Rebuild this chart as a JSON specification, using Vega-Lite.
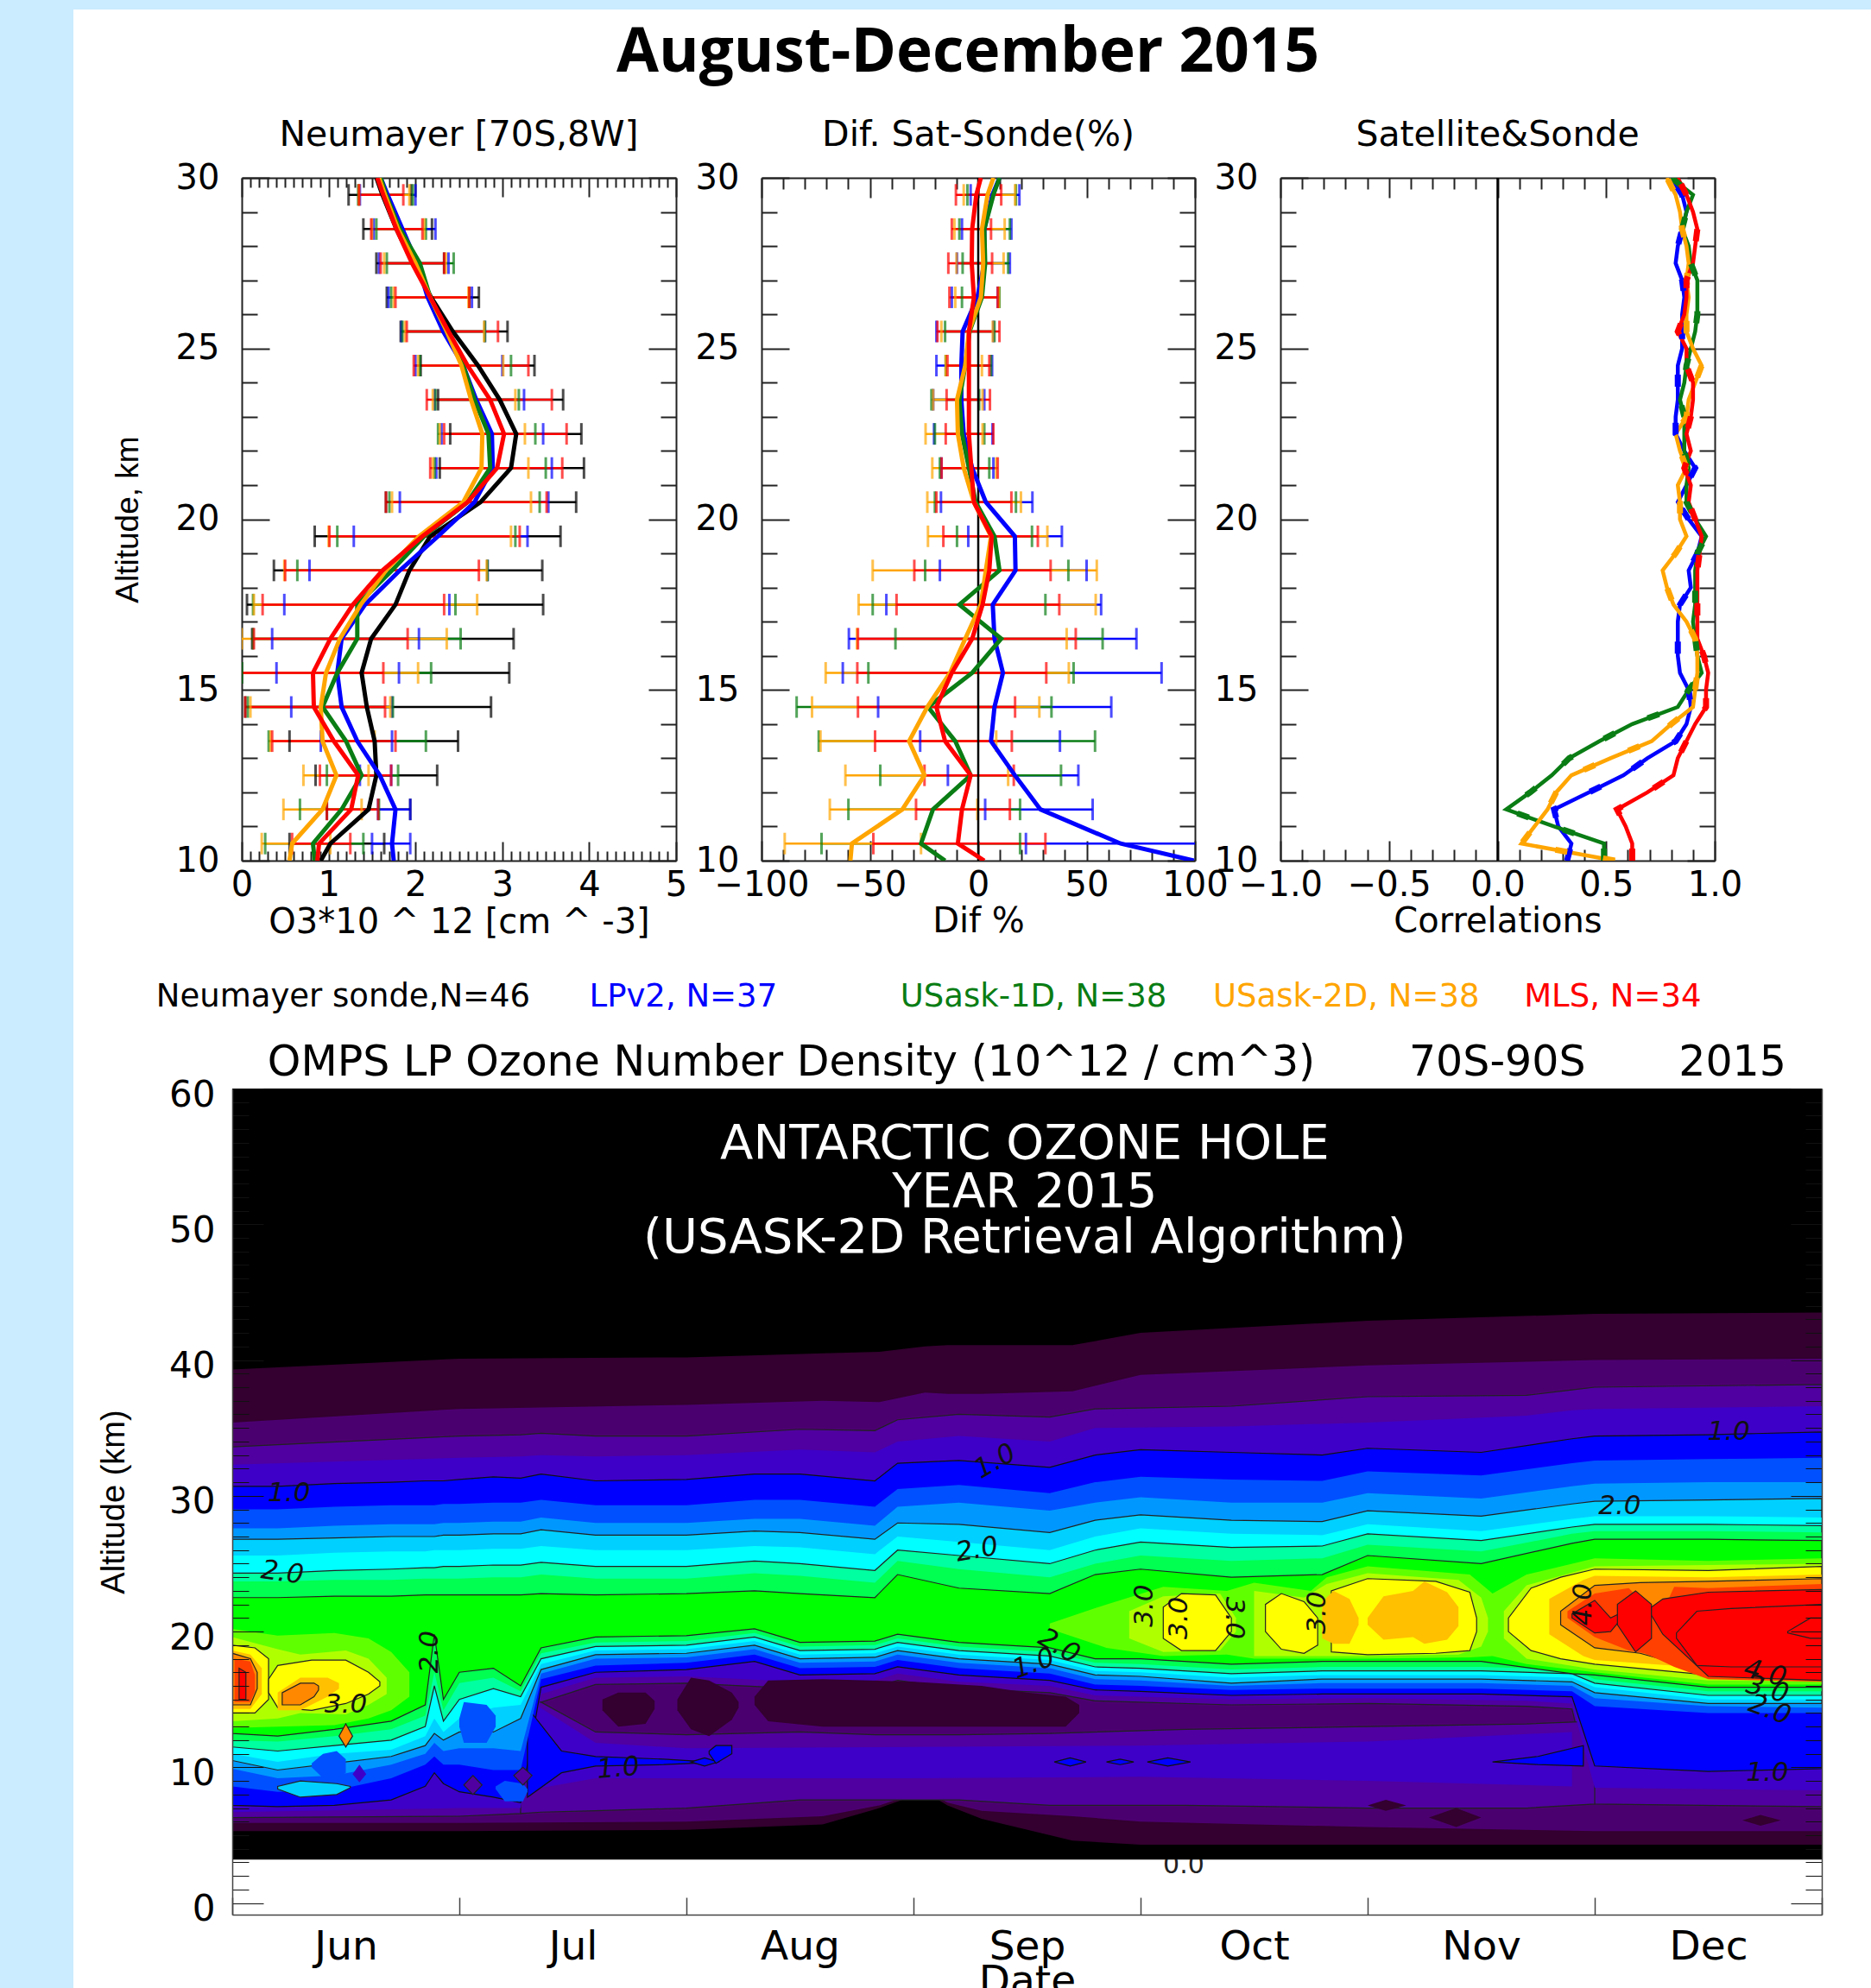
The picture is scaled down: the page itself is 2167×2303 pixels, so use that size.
{"$schema":"https://vega.github.io/schema/vega-lite/v6.json","background":"#ffffff","padding":0,"bounds":"flush","spacing":0,
"resolve":{"scale":{"color":"independent","stroke":"independent"}},
"config":{"view":{"stroke":null},"font":"DejaVu Sans","title":{"font":"DejaVu Sans","fontWeight":"normal","fontSize":41,"color":"#000","offset":8,"anchor":"middle"},"axis":{"grid":false,"labelFont":"DejaVu Sans","labelFontSize":40,"labelColor":"#000","titleFont":"DejaVu Sans","titleFontWeight":"normal","titleFontSize":40,"titleColor":"#000","domainColor":"#222","domainWidth":2,"tickColor":"#222","tickWidth":2,"labelOverlap":false,"labelFlush":false,"labelBound":false}},
"datasets":{
"p1":[
{"s":"S","a":30,"x":1.55},{"s":"S","a":29.5,"x":1.62,"lo":1.23,"hi":1.95},{"s":"S","a":28.5,"x":1.78,"lo":1.4,"hi":2.19},{"s":"S","a":27.5,"x":1.97,"lo":1.55,"hi":2.33},{"s":"S","a":26.5,"x":2.18,"lo":1.67,"hi":2.73},{"s":"S","a":25.5,"x":2.43,"lo":1.83,"hi":3.06},{"s":"S","a":24.5,"x":2.72,"lo":2.06,"hi":3.37},{"s":"S","a":23.5,"x":2.97,"lo":2.26,"hi":3.7},{"s":"S","a":22.5,"x":3.16,"lo":2.4,"hi":3.91},{"s":"S","a":21.5,"x":3.1,"lo":2.28,"hi":3.94},{"s":"S","a":20.5,"x":2.75,"lo":1.66,"hi":3.85},{"s":"S","a":19.5,"x":2.17,"lo":0.84,"hi":3.67},{"s":"S","a":18.5,"x":1.93,"lo":0.37,"hi":3.46},{"s":"S","a":17.5,"x":1.77,"lo":0.06,"hi":3.47},{"s":"S","a":16.5,"x":1.49,"lo":0.12,"hi":3.13},{"s":"S","a":15.5,"x":1.38,"lo":0,"hi":3.08},{"s":"S","a":14.5,"x":1.44,"lo":0.04,"hi":2.87},{"s":"S","a":13.5,"x":1.53,"lo":0.55,"hi":2.49},{"s":"S","a":12.5,"x":1.55,"lo":0.85,"hi":2.25},{"s":"S","a":11.5,"x":1.46,"lo":0.98,"hi":1.94},{"s":"S","a":10.5,"x":1.02,"lo":0.55,"hi":1.64},{"s":"S","a":10,"x":0.91},
{"s":"L","a":30,"x":1.6},{"s":"L","a":29.5,"x":1.68,"lo":1.36,"hi":2},{"s":"L","a":28.5,"x":1.85,"lo":1.52,"hi":2.23},{"s":"L","a":27.5,"x":2.02,"lo":1.58,"hi":2.38},{"s":"L","a":26.5,"x":2.14,"lo":1.69,"hi":2.65},{"s":"L","a":25.5,"x":2.32,"lo":1.84,"hi":2.8},{"s":"L","a":24.5,"x":2.55,"lo":2,"hi":3},{"s":"L","a":23.5,"x":2.7,"lo":2.22,"hi":3.25},{"s":"L","a":22.5,"x":2.88,"lo":2.3,"hi":3.47},{"s":"L","a":21.5,"x":2.89,"lo":2.24,"hi":3.57},{"s":"L","a":20.5,"x":2.68,"lo":1.82,"hi":3.53},{"s":"L","a":19.5,"x":2.26,"lo":1.29,"hi":3.29},{"s":"L","a":18.5,"x":1.82,"lo":0.78,"hi":2.83},{"s":"L","a":17.5,"x":1.42,"lo":0.49,"hi":2.39},{"s":"L","a":16.5,"x":1.15,"lo":0.35,"hi":2.04},{"s":"L","a":15.5,"x":1.1,"lo":0.4,"hi":1.81},{"s":"L","a":14.5,"x":1.15,"lo":0.57,"hi":1.73},{"s":"L","a":13.5,"x":1.33,"lo":0.91,"hi":1.73},{"s":"L","a":12.5,"x":1.59,"lo":1.36,"hi":1.72},{"s":"L","a":11.5,"x":1.77,"lo":1.57,"hi":1.94},{"s":"L","a":10.5,"x":1.73,"lo":1.5,"hi":1.94},{"s":"L","a":10,"x":1.75},
{"s":"U","a":30,"x":1.6},{"s":"U","a":29.5,"x":1.66,"lo":1.34,"hi":1.97},{"s":"U","a":28.5,"x":1.82,"lo":1.55,"hi":2.12},{"s":"U","a":27.5,"x":2.05,"lo":1.67,"hi":2.44},{"s":"U","a":26.5,"x":2.17,"lo":1.72,"hi":2.62},{"s":"U","a":25.5,"x":2.36,"lo":1.85,"hi":2.8},{"s":"U","a":24.5,"x":2.55,"lo":2.05,"hi":3.1},{"s":"U","a":23.5,"x":2.68,"lo":2.23,"hi":3.19},{"s":"U","a":22.5,"x":2.84,"lo":2.26,"hi":3.38},{"s":"U","a":21.5,"x":2.86,"lo":2.22,"hi":3.5},{"s":"U","a":20.5,"x":2.6,"lo":1.7,"hi":3.43},{"s":"U","a":19.5,"x":2.1,"lo":1.1,"hi":3.15},{"s":"U","a":18.5,"x":1.73,"lo":0.64,"hi":2.83},{"s":"U","a":17.5,"x":1.33,"lo":0.13,"hi":2.46},{"s":"U","a":16.5,"x":1.33,"lo":0.13,"hi":2.52},{"s":"U","a":15.5,"x":1.1,"lo":0,"hi":2.18},{"s":"U","a":14.5,"x":0.93,"lo":0.07,"hi":1.74},{"s":"U","a":13.5,"x":1.2,"lo":0.31,"hi":2.12},{"s":"U","a":12.5,"x":1.38,"lo":0.98,"hi":1.8},{"s":"U","a":11.5,"x":1.15,"lo":0.67,"hi":1.58},{"s":"U","a":10.5,"x":0.82,"lo":0.27,"hi":1.4},{"s":"U","a":10,"x":0.84},
{"s":"V","a":30,"x":1.58},{"s":"V","a":29.5,"x":1.65,"lo":1.35,"hi":1.93},{"s":"V","a":28.5,"x":1.8,"lo":1.5,"hi":2.1},{"s":"V","a":27.5,"x":2,"lo":1.64,"hi":2.35},{"s":"V","a":26.5,"x":2.17,"lo":1.75,"hi":2.61},{"s":"V","a":25.5,"x":2.36,"lo":1.88,"hi":2.79},{"s":"V","a":24.5,"x":2.53,"lo":2.03,"hi":3.01},{"s":"V","a":23.5,"x":2.64,"lo":2.2,"hi":3.15},{"s":"V","a":22.5,"x":2.77,"lo":2.28,"hi":3.26},{"s":"V","a":21.5,"x":2.76,"lo":2.2,"hi":3.3},{"s":"V","a":20.5,"x":2.55,"lo":1.73,"hi":3.33},{"s":"V","a":19.5,"x":2.04,"lo":1.0,"hi":3.1},{"s":"V","a":18.5,"x":1.66,"lo":0.49,"hi":2.82},{"s":"V","a":17.5,"x":1.37,"lo":0.14,"hi":2.71},{"s":"V","a":16.5,"x":1.13,"lo":0,"hi":2.36},{"s":"V","a":15.5,"x":0.97,"lo":-0.05,"hi":2.03},{"s":"V","a":14.5,"x":0.91,"lo":0.1,"hi":1.71},{"s":"V","a":13.5,"x":0.93,"lo":0.33,"hi":1.53},{"s":"V","a":12.5,"x":1.09,"lo":0.71,"hi":1.46},{"s":"V","a":11.5,"x":0.93,"lo":0.48,"hi":1.38},{"s":"V","a":10.5,"x":0.58,"lo":0.23,"hi":1.02},{"s":"V","a":10,"x":0.55},
{"s":"M","a":30,"x":1.56},{"s":"M","a":29.5,"x":1.63,"lo":1.35,"hi":1.86},{"s":"M","a":28.5,"x":1.78,"lo":1.49,"hi":2.08},{"s":"M","a":27.5,"x":1.96,"lo":1.6,"hi":2.33},{"s":"M","a":26.5,"x":2.17,"lo":1.77,"hi":2.62},{"s":"M","a":25.5,"x":2.38,"lo":1.9,"hi":2.95},{"s":"M","a":24.5,"x":2.6,"lo":1.98,"hi":3.3},{"s":"M","a":23.5,"x":2.86,"lo":2.13,"hi":3.57},{"s":"M","a":22.5,"x":3.02,"lo":2.33,"hi":3.74},{"s":"M","a":21.5,"x":2.94,"lo":2.17,"hi":3.69},{"s":"M","a":20.5,"x":2.6,"lo":1.66,"hi":3.51},{"s":"M","a":19.5,"x":2.08,"lo":1.01,"hi":3.2},{"s":"M","a":18.5,"x":1.62,"lo":0.5,"hi":2.73},{"s":"M","a":17.5,"x":1.28,"lo":0.24,"hi":2.33},{"s":"M","a":16.5,"x":1.02,"lo":0.14,"hi":1.91},{"s":"M","a":15.5,"x":0.82,"lo":-0.05,"hi":1.63},{"s":"M","a":14.5,"x":0.83,"lo":0.04,"hi":1.65},{"s":"M","a":13.5,"x":1.06,"lo":0.35,"hi":1.77},{"s":"M","a":12.5,"x":1.34,"lo":0.9,"hi":1.72},{"s":"M","a":11.5,"x":1.26,"lo":0.98,"hi":1.57},{"s":"M","a":10.5,"x":0.89,"lo":0.58,"hi":1.25},{"s":"M","a":10,"x":0.87}],
"p2":[
{"s":"L","a":30,"x":9.8},{"s":"L","a":29.5,"x":6.5,"lo":-3.5,"hi":19},{"s":"L","a":28.5,"x":2.8,"lo":-7.5,"hi":15.3},{"s":"L","a":27.5,"x":2.8,"lo":-9.8,"hi":14.6},{"s":"L","a":26.5,"x":-0.4,"lo":-12.2,"hi":9},{"s":"L","a":25.5,"x":-7.2,"lo":-19.3,"hi":7},{"s":"L","a":24.5,"x":-7.8,"lo":-19.3,"hi":6.4},{"s":"L","a":23.5,"x":-7.8,"lo":-20.8,"hi":2.8},{"s":"L","a":22.5,"x":-6.7,"lo":-20.4,"hi":6.6},{"s":"L","a":21.5,"x":-2.8,"lo":-17,"hi":7},{"s":"L","a":20.5,"x":3.5,"lo":-17.2,"hi":25},{"s":"L","a":19.5,"x":16.9,"lo":-4.6,"hi":38.6},{"s":"L","a":18.5,"x":17.2,"lo":-17.7,"hi":50},{"s":"L","a":17.5,"x":6.7,"lo":-42.4,"hi":56.7},{"s":"L","a":16.5,"x":7.5,"lo":-59.7,"hi":73},{"s":"L","a":15.5,"x":11.4,"lo":-62.5,"hi":84.6},{"s":"L","a":14.5,"x":7.5,"lo":-46.2,"hi":61.4},{"s":"L","a":13.5,"x":5.9,"lo":-26.8,"hi":37.7},{"s":"L","a":12.5,"x":16.9,"lo":-14,"hi":46.2},{"s":"L","a":11.5,"x":28.7,"lo":3.2,"hi":52.8},{"s":"L","a":10.5,"x":65.7,"lo":22,"hi":110},{"s":"L","a":10,"x":99.5},
{"s":"U","a":30,"x":9.8},{"s":"U","a":29.5,"x":7,"lo":-5,"hi":17.4},{"s":"U","a":28.5,"x":2.8,"lo":-8.7,"hi":14.6},{"s":"U","a":27.5,"x":3.2,"lo":-7.2,"hi":13.8},{"s":"U","a":26.5,"x":1.7,"lo":-7.5,"hi":9.8},{"s":"U","a":25.5,"x":-4,"lo":-15.3,"hi":7.5},{"s":"U","a":24.5,"x":-6,"lo":-15,"hi":5.9},{"s":"U","a":23.5,"x":-8.7,"lo":-21.6,"hi":0.4},{"s":"U","a":22.5,"x":-7.5,"lo":-20,"hi":2.8},{"s":"U","a":21.5,"x":-4.3,"lo":-17.7,"hi":5.1},{"s":"U","a":20.5,"x":-1.2,"lo":-20,"hi":17.4},{"s":"U","a":19.5,"x":7.5,"lo":-9.8,"hi":24.8},{"s":"U","a":18.5,"x":9.8,"lo":-24.5,"hi":41.6},{"s":"U","a":17.5,"x":-8.7,"lo":-48.7,"hi":31},{"s":"U","a":16.5,"x":10.6,"lo":-38.2,"hi":57.4},{"s":"U","a":15.5,"x":-2.8,"lo":-50.7,"hi":44},{"s":"U","a":14.5,"x":-23.2,"lo":-83.8,"hi":33.8},{"s":"U","a":13.5,"x":-10.6,"lo":-73.6,"hi":53.9},{"s":"U","a":12.5,"x":-3.5,"lo":-45.2,"hi":38.2},{"s":"U","a":11.5,"x":-20.9,"lo":-59.9,"hi":19.3},{"s":"U","a":10.5,"x":-26.4,"lo":-72.3,"hi":19.3},{"s":"U","a":10,"x":-15.3},
{"s":"V","a":30,"x":7},{"s":"V","a":29.5,"x":4.3,"lo":-6.7,"hi":17},{"s":"V","a":28.5,"x":1.7,"lo":-11,"hi":12.2},{"s":"V","a":27.5,"x":2.3,"lo":-10,"hi":11.7},{"s":"V","a":26.5,"x":1.2,"lo":-10.6,"hi":9.5},{"s":"V","a":25.5,"x":-4.3,"lo":-17,"hi":6.7},{"s":"V","a":24.5,"x":-6,"lo":-15,"hi":1.7},{"s":"V","a":23.5,"x":-9.8,"lo":-20.8,"hi":2},{"s":"V","a":22.5,"x":-9.4,"lo":-24.3,"hi":2},{"s":"V","a":21.5,"x":-6.7,"lo":-21.2,"hi":8.3},{"s":"V","a":20.5,"x":-2,"lo":-23.5,"hi":19.7},{"s":"V","a":19.5,"x":5.9,"lo":-23.2,"hi":31.9},{"s":"V","a":18.5,"x":3.5,"lo":-48.7,"hi":54.7},{"s":"V","a":17.5,"x":1.2,"lo":-55.2,"hi":54.2},{"s":"V","a":16.5,"x":-6,"lo":-56,"hi":40.8},{"s":"V","a":15.5,"x":-13,"lo":-70.4,"hi":41.8},{"s":"V","a":14.5,"x":-23.5,"lo":-76.7,"hi":28.2},{"s":"V","a":13.5,"x":-31.9,"lo":-72.8,"hi":8.3},{"s":"V","a":12.5,"x":-24.8,"lo":-61.3,"hi":13.8},{"s":"V","a":11.5,"x":-35,"lo":-68.5,"hi":-0.4},{"s":"V","a":10.5,"x":-58.3,"lo":-89.3,"hi":-26.4},{"s":"V","a":10,"x":-59},
{"s":"M","a":30,"x":1.2},{"s":"M","a":29.5,"x":-0.9,"lo":-10.3,"hi":10.6},{"s":"M","a":28.5,"x":-2.8,"lo":-12.2,"hi":5.9},{"s":"M","a":27.5,"x":-3,"lo":-13.8,"hi":6.4},{"s":"M","a":26.5,"x":-2,"lo":-13.3,"hi":9},{"s":"M","a":25.5,"x":-4.3,"lo":-18.8,"hi":9.8},{"s":"M","a":24.5,"x":-4.3,"lo":-14.2,"hi":5.1},{"s":"M","a":23.5,"x":-4.3,"lo":-14.6,"hi":5.4},{"s":"M","a":22.5,"x":-4.3,"lo":-15,"hi":7},{"s":"M","a":21.5,"x":-3.2,"lo":-16.9,"hi":9},{"s":"M","a":20.5,"x":-2,"lo":-19.3,"hi":15.3},{"s":"M","a":19.5,"x":6.2,"lo":-16.1,"hi":27.5},{"s":"M","a":18.5,"x":5.1,"lo":-29.5,"hi":33.4},{"s":"M","a":17.5,"x":2,"lo":-37.7,"hi":37.4},{"s":"M","a":16.5,"x":-2.8,"lo":-55.5,"hi":45},{"s":"M","a":15.5,"x":-12.2,"lo":-55.8,"hi":31.4},{"s":"M","a":14.5,"x":-19.3,"lo":-55.5,"hi":17},{"s":"M","a":13.5,"x":-15.3,"lo":-47.6,"hi":15.5},{"s":"M","a":12.5,"x":-3.5,"lo":-24.8,"hi":16.4},{"s":"M","a":11.5,"x":-7.5,"lo":-28.7,"hi":14.6},{"s":"M","a":10.5,"x":-9.4,"lo":-48.4,"hi":31},{"s":"M","a":10,"x":2.8}],
"p3":[
{"s":"L","a":30,"x":0.8},{"s":"L","a":29.5,"x":0.85},{"s":"L","a":29,"x":0.87},{"s":"L","a":28.5,"x":0.85},{"s":"L","a":28,"x":0.83},{"s":"L","a":27.5,"x":0.82},{"s":"L","a":27,"x":0.85},{"s":"L","a":26.5,"x":0.86},{"s":"L","a":26,"x":0.85},{"s":"L","a":25.5,"x":0.85},{"s":"L","a":25,"x":0.85},{"s":"L","a":24.5,"x":0.83},{"s":"L","a":24,"x":0.83},{"s":"L","a":23.5,"x":0.83},{"s":"L","a":23,"x":0.82},{"s":"L","a":22.5,"x":0.82},{"s":"L","a":22,"x":0.86},{"s":"L","a":21.5,"x":0.91},{"s":"L","a":21,"x":0.87},{"s":"L","a":20.5,"x":0.83},{"s":"L","a":20,"x":0.88},{"s":"L","a":19.5,"x":0.94},{"s":"L","a":19,"x":0.92},{"s":"L","a":18.5,"x":0.88},{"s":"L","a":18,"x":0.89},{"s":"L","a":17.5,"x":0.84},{"s":"L","a":17,"x":0.83},{"s":"L","a":16.5,"x":0.83},{"s":"L","a":16,"x":0.83},{"s":"L","a":15.5,"x":0.84},{"s":"L","a":15,"x":0.88},{"s":"L","a":14.5,"x":0.89},{"s":"L","a":14,"x":0.87},{"s":"L","a":13.5,"x":0.82},{"s":"L","a":13,"x":0.69},{"s":"L","a":12.5,"x":0.58},{"s":"L","a":12,"x":0.42},{"s":"L","a":11.5,"x":0.26},{"s":"L","a":11,"x":0.28},{"s":"L","a":10.5,"x":0.34},{"s":"L","a":10,"x":0.32},
{"s":"U","a":30,"x":0.8},{"s":"U","a":29.5,"x":0.9},{"s":"U","a":29,"x":0.87},{"s":"U","a":28.5,"x":0.85},{"s":"U","a":28,"x":0.88},{"s":"U","a":27.5,"x":0.89},{"s":"U","a":27,"x":0.92},{"s":"U","a":26.5,"x":0.92},{"s":"U","a":26,"x":0.92},{"s":"U","a":25.5,"x":0.91},{"s":"U","a":25,"x":0.89},{"s":"U","a":24.5,"x":0.87},{"s":"U","a":24,"x":0.86},{"s":"U","a":23.5,"x":0.84},{"s":"U","a":23,"x":0.86},{"s":"U","a":22.5,"x":0.86},{"s":"U","a":22,"x":0.86},{"s":"U","a":21.5,"x":0.88},{"s":"U","a":21,"x":0.87},{"s":"U","a":20.5,"x":0.87},{"s":"U","a":20,"x":0.91},{"s":"U","a":19.5,"x":0.96},{"s":"U","a":19,"x":0.92},{"s":"U","a":18.5,"x":0.91},{"s":"U","a":18,"x":0.91},{"s":"U","a":17.5,"x":0.91},{"s":"U","a":17,"x":0.9},{"s":"U","a":16.5,"x":0.91},{"s":"U","a":16,"x":0.92},{"s":"U","a":15.5,"x":0.94},{"s":"U","a":15,"x":0.88},{"s":"U","a":14.5,"x":0.83},{"s":"U","a":14,"x":0.62},{"s":"U","a":13.5,"x":0.47},{"s":"U","a":13,"x":0.33},{"s":"U","a":12.5,"x":0.25},{"s":"U","a":12,"x":0.15},{"s":"U","a":11.5,"x":0.04},{"s":"U","a":11,"x":0.26},{"s":"U","a":10.5,"x":0.49},{"s":"U","a":10,"x":0.49},
{"s":"V","a":30,"x":0.78},{"s":"V","a":29.5,"x":0.82},{"s":"V","a":29,"x":0.84},{"s":"V","a":28.5,"x":0.85},{"s":"V","a":28,"x":0.87},{"s":"V","a":27.5,"x":0.88},{"s":"V","a":27,"x":0.87},{"s":"V","a":26.5,"x":0.88},{"s":"V","a":26,"x":0.87},{"s":"V","a":25.5,"x":0.87},{"s":"V","a":25,"x":0.9},{"s":"V","a":24.5,"x":0.94},{"s":"V","a":24,"x":0.91},{"s":"V","a":23.5,"x":0.88},{"s":"V","a":23,"x":0.87},{"s":"V","a":22.5,"x":0.82},{"s":"V","a":22,"x":0.84},{"s":"V","a":21.5,"x":0.87},{"s":"V","a":21,"x":0.83},{"s":"V","a":20.5,"x":0.84},{"s":"V","a":20,"x":0.84},{"s":"V","a":19.5,"x":0.87},{"s":"V","a":19,"x":0.82},{"s":"V","a":18.5,"x":0.76},{"s":"V","a":18,"x":0.78},{"s":"V","a":17.5,"x":0.81},{"s":"V","a":17,"x":0.87},{"s":"V","a":16.5,"x":0.91},{"s":"V","a":16,"x":0.92},{"s":"V","a":15.5,"x":0.92},{"s":"V","a":15,"x":0.91},{"s":"V","a":14.5,"x":0.9},{"s":"V","a":14,"x":0.8},{"s":"V","a":13.5,"x":0.71},{"s":"V","a":13,"x":0.52},{"s":"V","a":12.5,"x":0.34},{"s":"V","a":12,"x":0.27},{"s":"V","a":11.5,"x":0.23},{"s":"V","a":11,"x":0.17},{"s":"V","a":10.5,"x":0.11},{"s":"V","a":10,"x":0.54},
{"s":"M","a":30,"x":0.83},{"s":"M","a":29.5,"x":0.87},{"s":"M","a":29,"x":0.9},{"s":"M","a":28.5,"x":0.92},{"s":"M","a":28,"x":0.91},{"s":"M","a":27.5,"x":0.9},{"s":"M","a":27,"x":0.87},{"s":"M","a":26.5,"x":0.87},{"s":"M","a":26,"x":0.86},{"s":"M","a":25.5,"x":0.83},{"s":"M","a":25,"x":0.87},{"s":"M","a":24.5,"x":0.87},{"s":"M","a":24,"x":0.9},{"s":"M","a":23.5,"x":0.9},{"s":"M","a":23,"x":0.89},{"s":"M","a":22.5,"x":0.87},{"s":"M","a":22,"x":0.89},{"s":"M","a":21.5,"x":0.86},{"s":"M","a":21,"x":0.89},{"s":"M","a":20.5,"x":0.88},{"s":"M","a":20,"x":0.91},{"s":"M","a":19.5,"x":0.94},{"s":"M","a":19,"x":0.93},{"s":"M","a":18.5,"x":0.92},{"s":"M","a":18,"x":0.92},{"s":"M","a":17.5,"x":0.92},{"s":"M","a":17,"x":0.92},{"s":"M","a":16.5,"x":0.92},{"s":"M","a":16,"x":0.95},{"s":"M","a":15.5,"x":0.97},{"s":"M","a":15,"x":0.96},{"s":"M","a":14.5,"x":0.96},{"s":"M","a":14,"x":0.91},{"s":"M","a":13.5,"x":0.87},{"s":"M","a":13,"x":0.83},{"s":"M","a":12.5,"x":0.81},{"s":"M","a":12,"x":0.69},{"s":"M","a":11.5,"x":0.55},{"s":"M","a":11,"x":0.59},{"s":"M","a":10.5,"x":0.62},{"s":"M","a":10,"x":0.62}],
"c":[
{"k":"a0","l":0,"m":0,"lo":3.2,"hi":60},{"k":"a0","l":0,"m":7,"lo":3.2,"hi":60},
{"k":"a1","l":1,"m":0,"lo":5.3,"hi":39.3},{"k":"a1","l":1,"m":1,"lo":5.3,"hi":40.1},{"k":"a1","l":1,"m":2,"lo":5.4,"hi":40.2},{"k":"a1","l":1,"m":2.6,"lo":5.8,"hi":40.5},{"k":"a1","l":1,"m":2.85,"lo":7,"hi":40.6},{"k":"a1","l":1,"m":3.05,"lo":8.2,"hi":41},{"k":"a1","l":1,"m":3.15,"lo":7.2,"hi":41.1},{"k":"a1","l":1,"m":3.3,"lo":6.2,"hi":41.1},{"k":"a1","l":1,"m":3.7,"lo":4.6,"hi":41.1},{"k":"a1","l":1,"m":4,"lo":4.3,"hi":42},{"k":"a1","l":1,"m":5,"lo":4.3,"hi":42.9},{"k":"a1","l":1,"m":6,"lo":4.3,"hi":43.4},{"k":"a1","l":1,"m":7,"lo":4.3,"hi":43.5},
{"k":"a2","l":2,"m":0,"lo":5.9,"hi":35.4},{"k":"a2","l":2,"m":1,"lo":5.9,"hi":36.4},{"k":"a2","l":2,"m":2,"lo":6,"hi":36.7},{"k":"a2","l":2,"m":2.6,"lo":6.4,"hi":37},{"k":"a2","l":2,"m":2.85,"lo":7.2,"hi":36.9},{"k":"a2","l":2,"m":3.05,"lo":8.3,"hi":37.6},{"k":"a2","l":2,"m":3.15,"lo":7.4,"hi":37.5},{"k":"a2","l":2,"m":3.3,"lo":6.8,"hi":37.5},{"k":"a2","l":2,"m":3.7,"lo":6.4,"hi":37.7},{"k":"a2","l":2,"m":4,"lo":6,"hi":38.9},{"k":"a2","l":2,"m":5,"lo":5.6,"hi":39.6},{"k":"a2","l":2,"m":6,"lo":5.3,"hi":40},{"k":"a2","l":2,"m":7,"lo":5.3,"hi":40.1},
{"k":"u3","l":3,"m":0,"lo":6.3,"hi":33.6},{"k":"u3","l":3,"m":1,"lo":6.4,"hi":34.4},{"k":"u3","l":3,"m":1.27,"lo":6.6,"hi":34.5},{"k":"u3","l":3,"m":1.36,"lo":14.8,"hi":34.6},{"k":"u3","l":3,"m":1.6,"lo":16.1,"hi":34.4},{"k":"u3","l":3,"m":2,"lo":16.2,"hi":34.4},{"k":"u3","l":3,"m":2.5,"lo":15.8,"hi":34.9},{"k":"u3","l":3,"m":2.83,"lo":15.9,"hi":34.8},{"k":"u3","l":3,"m":2.93,"lo":16.4,"hi":35.6},{"k":"u3","l":3,"m":3.2,"lo":15.8,"hi":36},{"k":"u3","l":3,"m":3.6,"lo":15.5,"hi":35.8},{"k":"u3","l":3,"m":3.8,"lo":14.9,"hi":36.4},{"k":"u3","l":3,"m":4.4,"lo":14.6,"hi":36.6},{"k":"u3","l":3,"m":5,"lo":14.7,"hi":37.3},{"k":"u3","l":3,"m":5.7,"lo":14.5,"hi":37.4},{"k":"u3","l":3,"m":5.9,"lo":14.3,"hi":37.8},{"k":"u3","l":3,"m":6,"lo":7.3,"hi":38},{"k":"u3","l":3,"m":7,"lo":7.1,"hi":38.2},
{"k":"d3","l":3,"m":1.27,"lo":6.6,"hi":14.8},{"k":"d3","l":3,"m":1.36,"lo":6.7,"hi":14.8},{"k":"d3","l":3,"m":1.6,"lo":6.8,"hi":12.6},{"k":"d3","l":3,"m":2,"lo":7,"hi":12.4},{"k":"d3","l":3,"m":2.5,"lo":7.6,"hi":12.6},{"k":"d3","l":3,"m":2.83,"lo":7.6,"hi":12.4},{"k":"d3","l":3,"m":3.2,"lo":7.6,"hi":12.4},{"k":"d3","l":3,"m":3.6,"lo":7.2,"hi":12.5},{"k":"d3","l":3,"m":4.2,"lo":7.2,"hi":12.8},{"k":"d3","l":3,"m":5,"lo":7,"hi":13},{"k":"d3","l":3,"m":5.7,"lo":7,"hi":13.2},{"k":"d3","l":3,"m":6,"lo":7.3,"hi":13.4},
{"k":"u4","l":4,"m":0,"lo":6.7,"hi":32.3},{"k":"u4","l":4,"m":1,"lo":7,"hi":32.8},{"k":"u4","l":4,"m":1.27,"lo":7,"hi":32.9},{"k":"u4","l":4,"m":1.36,"lo":15.4,"hi":33},{"k":"u4","l":4,"m":1.6,"lo":16.6,"hi":32.9},{"k":"u4","l":4,"m":2,"lo":16.7,"hi":33},{"k":"u4","l":4,"m":2.5,"lo":16.3,"hi":33.4},{"k":"u4","l":4,"m":2.83,"lo":16.4,"hi":33.2},{"k":"u4","l":4,"m":2.93,"lo":16.9,"hi":34},{"k":"u4","l":4,"m":3.2,"lo":16.3,"hi":34.4},{"k":"u4","l":4,"m":3.6,"lo":16,"hi":34},{"k":"u4","l":4,"m":3.8,"lo":15.3,"hi":35},{"k":"u4","l":4,"m":4.4,"lo":15,"hi":35.1},{"k":"u4","l":4,"m":5,"lo":15.1,"hi":35.4},{"k":"u4","l":4,"m":5.7,"lo":14.9,"hi":35.9},{"k":"u4","l":4,"m":5.9,"lo":14.7,"hi":36.3},{"k":"u4","l":4,"m":6,"lo":8.5,"hi":36.4},{"k":"u4","l":4,"m":7,"lo":8.3,"hi":36.6},
{"k":"d4","l":4,"m":1.3,"lo":8.3,"hi":15},{"k":"d4","l":4,"m":1.6,"lo":9.2,"hi":11.8},{"k":"d4","l":4,"m":2,"lo":9.2,"hi":11.4},{"k":"d4","l":4,"m":3,"lo":9.2,"hi":11.5},{"k":"d4","l":4,"m":4,"lo":9.3,"hi":11.6},{"k":"d4","l":4,"m":5,"lo":9,"hi":11.9},{"k":"d4","l":4,"m":5.9,"lo":8.6,"hi":12.6},
{"k":"u5","l":5,"m":0,"lo":7.2,"hi":30.7},{"k":"u5","l":5,"m":0.2,"lo":7.1,"hi":30.7},{"k":"u5","l":5,"m":0.45,"lo":7.2,"hi":30.9},{"k":"u5","l":5,"m":0.7,"lo":7.6,"hi":31},{"k":"u5","l":5,"m":0.85,"lo":8.6,"hi":31.1},{"k":"u5","l":5,"m":0.89,"lo":9.6,"hi":31.1},{"k":"u5","l":5,"m":0.93,"lo":8.8,"hi":31.1},{"k":"u5","l":5,"m":1,"lo":8.2,"hi":31.2},{"k":"u5","l":5,"m":1.15,"lo":7.8,"hi":31.4},{"k":"u5","l":5,"m":1.27,"lo":7.4,"hi":31.3},{"k":"u5","l":5,"m":1.36,"lo":15.9,"hi":31.6},{"k":"u5","l":5,"m":1.6,"lo":17,"hi":31.1},{"k":"u5","l":5,"m":2,"lo":17.2,"hi":31.2},{"k":"u5","l":5,"m":2.3,"lo":17.8,"hi":31.6},{"k":"u5","l":5,"m":2.5,"lo":16.8,"hi":31.6},{"k":"u5","l":5,"m":2.83,"lo":16.9,"hi":31.1},{"k":"u5","l":5,"m":2.93,"lo":17.4,"hi":32.4},{"k":"u5","l":5,"m":3.2,"lo":16.8,"hi":32.6},{"k":"u5","l":5,"m":3.6,"lo":16.4,"hi":32.1},{"k":"u5","l":5,"m":3.8,"lo":15.7,"hi":33},{"k":"u5","l":5,"m":4,"lo":15.6,"hi":33.4},{"k":"u5","l":5,"m":4.4,"lo":15.3,"hi":33.2},{"k":"u5","l":5,"m":4.8,"lo":15.4,"hi":33},{"k":"u5","l":5,"m":5,"lo":15.4,"hi":33.5},{"k":"u5","l":5,"m":5.5,"lo":15.4,"hi":33.2},{"k":"u5","l":5,"m":5.9,"lo":15.2,"hi":34.2},{"k":"u5","l":5,"m":6,"lo":10.1,"hi":34.4},{"k":"u5","l":5,"m":6.5,"lo":9.7,"hi":34.5},{"k":"u5","l":5,"m":7,"lo":9.9,"hi":34.7},
{"k":"d5","l":5,"m":1.3,"lo":7.8,"hi":14.4},{"k":"d5","l":5,"m":1.45,"lo":9.6,"hi":11.2},{"k":"d5","l":5,"m":1.6,"lo":10.1,"hi":10.8},{"k":"d5","l":5,"m":1.9,"lo":10.2,"hi":10.6},{"k":"d5","l":5,"m":2.1,"lo":10.35,"hi":10.4},
{"k":"u6","l":6,"m":0,"lo":8.6,"hi":29},{"k":"u6","l":6,"m":0.2,"lo":8.2,"hi":29},{"k":"u6","l":6,"m":0.45,"lo":8.3,"hi":29.2},{"k":"u6","l":6,"m":0.7,"lo":9.2,"hi":29.3},{"k":"u6","l":6,"m":0.85,"lo":10.2,"hi":29.3},{"k":"u6","l":6,"m":0.89,"lo":10.8,"hi":29.3},{"k":"u6","l":6,"m":0.93,"lo":10.2,"hi":29.4},{"k":"u6","l":6,"m":1,"lo":10.2,"hi":29.4},{"k":"u6","l":6,"m":1.15,"lo":9.8,"hi":29.5},{"k":"u6","l":6,"m":1.27,"lo":9.8,"hi":29.5},{"k":"u6","l":6,"m":1.36,"lo":16.5,"hi":29.7},{"k":"u6","l":6,"m":1.6,"lo":17.5,"hi":29.3},{"k":"u6","l":6,"m":2,"lo":17.7,"hi":29.3},{"k":"u6","l":6,"m":2.3,"lo":18.3,"hi":29.7},{"k":"u6","l":6,"m":2.5,"lo":17.3,"hi":29.7},{"k":"u6","l":6,"m":2.83,"lo":17.4,"hi":29.2},{"k":"u6","l":6,"m":2.93,"lo":17.9,"hi":30.5},{"k":"u6","l":6,"m":3.2,"lo":17.3,"hi":30.8},{"k":"u6","l":6,"m":3.6,"lo":16.9,"hi":30.2},{"k":"u6","l":6,"m":3.8,"lo":16.1,"hi":31},{"k":"u6","l":6,"m":4,"lo":16,"hi":31.4},{"k":"u6","l":6,"m":4.4,"lo":15.7,"hi":31.2},{"k":"u6","l":6,"m":4.8,"lo":15.8,"hi":31.1},{"k":"u6","l":6,"m":5,"lo":15.8,"hi":31.8},{"k":"u6","l":6,"m":5.5,"lo":15.8,"hi":31.5},{"k":"u6","l":6,"m":5.9,"lo":15.6,"hi":32.4},{"k":"u6","l":6,"m":6,"lo":14.5,"hi":32.6},{"k":"u6","l":6,"m":6.5,"lo":14,"hi":32.7},{"k":"u6","l":6,"m":7,"lo":14,"hi":32.8},
{"k":"u7","l":7,"m":0,"lo":9.9,"hi":27.6},{"k":"u7","l":7,"m":0.2,"lo":9.2,"hi":27.6},{"k":"u7","l":7,"m":0.45,"lo":9.4,"hi":27.8},{"k":"u7","l":7,"m":0.7,"lo":10.2,"hi":27.9},{"k":"u7","l":7,"m":0.85,"lo":11,"hi":27.9},{"k":"u7","l":7,"m":0.89,"lo":11.8,"hi":27.9},{"k":"u7","l":7,"m":0.93,"lo":11.2,"hi":28},{"k":"u7","l":7,"m":1,"lo":11.4,"hi":28},{"k":"u7","l":7,"m":1.15,"lo":11.4,"hi":28.1},{"k":"u7","l":7,"m":1.27,"lo":11.2,"hi":28.1},{"k":"u7","l":7,"m":1.36,"lo":16.9,"hi":28.4},{"k":"u7","l":7,"m":1.6,"lo":18,"hi":28},{"k":"u7","l":7,"m":2,"lo":18.1,"hi":28},{"k":"u7","l":7,"m":2.3,"lo":18.7,"hi":28.3},{"k":"u7","l":7,"m":2.5,"lo":17.7,"hi":28.3},{"k":"u7","l":7,"m":2.83,"lo":17.8,"hi":27.8},{"k":"u7","l":7,"m":2.93,"lo":18.3,"hi":29.2},{"k":"u7","l":7,"m":3.2,"lo":17.7,"hi":29.5},{"k":"u7","l":7,"m":3.6,"lo":17.3,"hi":28.9},{"k":"u7","l":7,"m":3.8,"lo":16.5,"hi":29.5},{"k":"u7","l":7,"m":4,"lo":16.4,"hi":29.9},{"k":"u7","l":7,"m":4.4,"lo":16,"hi":29.5},{"k":"u7","l":7,"m":4.8,"lo":16.2,"hi":29.5},{"k":"u7","l":7,"m":5,"lo":16.2,"hi":30.2},{"k":"u7","l":7,"m":5.5,"lo":16.2,"hi":29.8},{"k":"u7","l":7,"m":5.9,"lo":16,"hi":30.7},{"k":"u7","l":7,"m":6,"lo":15.1,"hi":30.9},{"k":"u7","l":7,"m":6.5,"lo":14.5,"hi":31},{"k":"u7","l":7,"m":7,"lo":14.4,"hi":31},
{"k":"u8","l":8,"m":0,"lo":10.5,"hi":26.8},{"k":"u8","l":8,"m":0.2,"lo":9.8,"hi":26.8},{"k":"u8","l":8,"m":0.45,"lo":10.3,"hi":26.9},{"k":"u8","l":8,"m":0.7,"lo":10.8,"hi":27},{"k":"u8","l":8,"m":0.85,"lo":11.6,"hi":27},{"k":"u8","l":8,"m":0.89,"lo":12.5,"hi":27},{"k":"u8","l":8,"m":0.93,"lo":12,"hi":27.1},{"k":"u8","l":8,"m":1,"lo":12.6,"hi":27.1},{"k":"u8","l":8,"m":1.15,"lo":12.6,"hi":27.2},{"k":"u8","l":8,"m":1.27,"lo":13.6,"hi":27.2},{"k":"u8","l":8,"m":1.36,"lo":17.2,"hi":27.5},{"k":"u8","l":8,"m":1.6,"lo":18.3,"hi":27.1},{"k":"u8","l":8,"m":2,"lo":18.4,"hi":27.1},{"k":"u8","l":8,"m":2.3,"lo":19,"hi":27.4},{"k":"u8","l":8,"m":2.5,"lo":18,"hi":27.3},{"k":"u8","l":8,"m":2.83,"lo":18.1,"hi":26.8},{"k":"u8","l":8,"m":2.93,"lo":18.6,"hi":28},{"k":"u8","l":8,"m":3.2,"lo":18,"hi":27.9},{"k":"u8","l":8,"m":3.6,"lo":17.6,"hi":27.3},{"k":"u8","l":8,"m":3.8,"lo":16.8,"hi":28.2},{"k":"u8","l":8,"m":4,"lo":16.7,"hi":28.6},{"k":"u8","l":8,"m":4.4,"lo":16.2,"hi":28.2},{"k":"u8","l":8,"m":4.8,"lo":16.5,"hi":28.1},{"k":"u8","l":8,"m":5,"lo":16.5,"hi":28.9},{"k":"u8","l":8,"m":5.5,"lo":16.5,"hi":28.5},{"k":"u8","l":8,"m":5.9,"lo":16.3,"hi":29.4},{"k":"u8","l":8,"m":6,"lo":15.5,"hi":29.6},{"k":"u8","l":8,"m":6.5,"lo":14.7,"hi":29.7},{"k":"u8","l":8,"m":7,"lo":14.7,"hi":29.8},
{"k":"u9","l":9,"m":0,"lo":11,"hi":25.6},{"k":"u9","l":9,"m":0.2,"lo":10.4,"hi":25.6},{"k":"u9","l":9,"m":0.45,"lo":11,"hi":25.8},{"k":"u9","l":9,"m":0.7,"lo":11.3,"hi":25.9},{"k":"u9","l":9,"m":0.85,"lo":12.3,"hi":25.9},{"k":"u9","l":9,"m":0.89,"lo":13.6,"hi":26},{"k":"u9","l":9,"m":0.93,"lo":12.6,"hi":26},{"k":"u9","l":9,"m":1,"lo":13.6,"hi":26},{"k":"u9","l":9,"m":1.15,"lo":14.4,"hi":26.1},{"k":"u9","l":9,"m":1.27,"lo":14.6,"hi":26.1},{"k":"u9","l":9,"m":1.36,"lo":17.6,"hi":26.3},{"k":"u9","l":9,"m":1.6,"lo":18.6,"hi":26},{"k":"u9","l":9,"m":2,"lo":18.7,"hi":26},{"k":"u9","l":9,"m":2.3,"lo":19.3,"hi":26.3},{"k":"u9","l":9,"m":2.5,"lo":18.3,"hi":26.2},{"k":"u9","l":9,"m":2.83,"lo":18.4,"hi":25.7},{"k":"u9","l":9,"m":2.93,"lo":18.9,"hi":27},{"k":"u9","l":9,"m":3.2,"lo":18.3,"hi":26.6},{"k":"u9","l":9,"m":3.6,"lo":17.9,"hi":26},{"k":"u9","l":9,"m":3.8,"lo":17.1,"hi":27},{"k":"u9","l":9,"m":4,"lo":17,"hi":27.6},{"k":"u9","l":9,"m":4.4,"lo":16.6,"hi":27.2},{"k":"u9","l":9,"m":4.8,"lo":16.8,"hi":27.1},{"k":"u9","l":9,"m":5,"lo":16.8,"hi":27.9},{"k":"u9","l":9,"m":5.5,"lo":16.8,"hi":27.4},{"k":"u9","l":9,"m":5.9,"lo":16.6,"hi":28.3},{"k":"u9","l":9,"m":6,"lo":15.9,"hi":28.5},{"k":"u9","l":9,"m":6.5,"lo":15,"hi":28.5},{"k":"u9","l":9,"m":7,"lo":15,"hi":28.4},
{"k":"u10","l":10,"m":0,"lo":11.5,"hi":24.3},{"k":"u10","l":10,"m":0.2,"lo":11.2,"hi":24.3},{"k":"u10","l":10,"m":0.45,"lo":11.6,"hi":24.5},{"k":"u10","l":10,"m":0.7,"lo":12,"hi":24.6},{"k":"u10","l":10,"m":0.85,"lo":13,"hi":24.7},{"k":"u10","l":10,"m":0.89,"lo":16,"hi":24.7},{"k":"u10","l":10,"m":0.93,"lo":13.4,"hi":24.8},{"k":"u10","l":10,"m":1,"lo":15,"hi":24.8},{"k":"u10","l":10,"m":1.15,"lo":15.8,"hi":24.9},{"k":"u10","l":10,"m":1.27,"lo":15.2,"hi":24.9},{"k":"u10","l":10,"m":1.36,"lo":18,"hi":25.1},{"k":"u10","l":10,"m":1.6,"lo":18.9,"hi":24.8},{"k":"u10","l":10,"m":2,"lo":19,"hi":24.8},{"k":"u10","l":10,"m":2.3,"lo":19.6,"hi":25.2},{"k":"u10","l":10,"m":2.5,"lo":18.6,"hi":25},{"k":"u10","l":10,"m":2.83,"lo":18.7,"hi":24.5},{"k":"u10","l":10,"m":2.93,"lo":19.2,"hi":26},{"k":"u10","l":10,"m":3.2,"lo":18.6,"hi":25.6},{"k":"u10","l":10,"m":3.6,"lo":18.2,"hi":25},{"k":"u10","l":10,"m":3.8,"lo":17.4,"hi":26},{"k":"u10","l":10,"m":4,"lo":17.3,"hi":26.6},{"k":"u10","l":10,"m":4.4,"lo":16.9,"hi":26.2},{"k":"u10","l":10,"m":4.8,"lo":17.1,"hi":26.3},{"k":"u10","l":10,"m":5,"lo":17.1,"hi":27.2},{"k":"u10","l":10,"m":5.5,"lo":17.1,"hi":26.7},{"k":"u10","l":10,"m":5.9,"lo":16.9,"hi":27.7},{"k":"u10","l":10,"m":6,"lo":16.2,"hi":27.9},{"k":"u10","l":10,"m":6.5,"lo":15.3,"hi":27.9},{"k":"u10","l":10,"m":7,"lo":15.3,"hi":27.8},
{"k":"u11","l":11,"m":0,"lo":12,"hi":23.7},{"k":"u11","l":11,"m":0.2,"lo":11.9,"hi":23.7},{"k":"u11","l":11,"m":0.45,"lo":12.3,"hi":23.8},{"k":"u11","l":11,"m":0.7,"lo":12.8,"hi":23.8},{"k":"u11","l":11,"m":0.85,"lo":13.8,"hi":23.9},{"k":"u11","l":11,"m":0.89,"lo":17,"hi":23.9},{"k":"u11","l":11,"m":0.93,"lo":14.2,"hi":23.9},{"k":"u11","l":11,"m":1,"lo":16.2,"hi":23.9},{"k":"u11","l":11,"m":1.15,"lo":16.6,"hi":24},{"k":"u11","l":11,"m":1.27,"lo":15.6,"hi":24},{"k":"u11","l":11,"m":1.36,"lo":18.4,"hi":24.2},{"k":"u11","l":11,"m":1.6,"lo":19.2,"hi":23.9},{"k":"u11","l":11,"m":2,"lo":19.3,"hi":23.9},{"k":"u11","l":11,"m":2.3,"lo":19.9,"hi":24.3},{"k":"u11","l":11,"m":2.5,"lo":18.9,"hi":24.1},{"k":"u11","l":11,"m":2.83,"lo":19,"hi":23.6},{"k":"u11","l":11,"m":2.93,"lo":19.5,"hi":25.2},{"k":"u11","l":11,"m":3.2,"lo":18.9,"hi":24.6},{"k":"u11","l":11,"m":3.6,"lo":18.5,"hi":24},{"k":"u11","l":11,"m":3.8,"lo":17.7,"hi":25},{"k":"u11","l":11,"m":4,"lo":17.6,"hi":25.6},{"k":"u11","l":11,"m":4.4,"lo":17.2,"hi":25.2},{"k":"u11","l":11,"m":4.8,"lo":17.4,"hi":25.4},{"k":"u11","l":11,"m":5,"lo":17.4,"hi":26.4},{"k":"u11","l":11,"m":5.5,"lo":17.4,"hi":25.9},{"k":"u11","l":11,"m":5.9,"lo":17.2,"hi":27.2},{"k":"u11","l":11,"m":6,"lo":16.5,"hi":27.4},{"k":"u11","l":11,"m":6.5,"lo":15.6,"hi":27.4},{"k":"u11","l":11,"m":7,"lo":15.6,"hi":27.3},
{"k":"u12","l":12,"m":0,"lo":12.5,"hi":22.5},{"k":"u12","l":12,"m":0.2,"lo":12.3,"hi":22.5},{"k":"u12","l":12,"m":0.45,"lo":12.8,"hi":22.6},{"k":"u12","l":12,"m":0.7,"lo":13.4,"hi":22.6},{"k":"u12","l":12,"m":0.85,"lo":14.6,"hi":22.7},{"k":"u12","l":12,"m":0.89,"lo":19.8,"hi":22.7},{"k":"u12","l":12,"m":0.93,"lo":15,"hi":22.7},{"k":"u12","l":12,"m":1,"lo":17,"hi":22.7},{"k":"u12","l":12,"m":1.15,"lo":17.3,"hi":22.7},{"k":"u12","l":12,"m":1.27,"lo":16,"hi":22.7},{"k":"u12","l":12,"m":1.36,"lo":18.8,"hi":22.8},{"k":"u12","l":12,"m":1.6,"lo":19.6,"hi":22.7},{"k":"u12","l":12,"m":2,"lo":19.7,"hi":22.8},{"k":"u12","l":12,"m":2.3,"lo":20.2,"hi":23},{"k":"u12","l":12,"m":2.5,"lo":19.2,"hi":22.8},{"k":"u12","l":12,"m":2.83,"lo":19.3,"hi":22.5},{"k":"u12","l":12,"m":2.93,"lo":19.8,"hi":24.2},{"k":"u12","l":12,"m":3.2,"lo":19.2,"hi":23.2},{"k":"u12","l":12,"m":3.6,"lo":18.8,"hi":22.8},{"k":"u12","l":12,"m":3.8,"lo":18,"hi":24.2},{"k":"u12","l":12,"m":4,"lo":18,"hi":24.6},{"k":"u12","l":12,"m":4.4,"lo":17.6,"hi":24},{"k":"u12","l":12,"m":4.8,"lo":17.8,"hi":24.2},{"k":"u12","l":12,"m":5,"lo":17.8,"hi":25.6},{"k":"u12","l":12,"m":5.5,"lo":17.8,"hi":25},{"k":"u12","l":12,"m":5.9,"lo":16.9,"hi":26.5},{"k":"u12","l":12,"m":6,"lo":16.8,"hi":26.8},{"k":"u12","l":12,"m":6.5,"lo":15.9,"hi":26.8},{"k":"u12","l":12,"m":7,"lo":15.9,"hi":26.7},
{"k":"p1","l":1,"m":1.63,"lo":14.2,"hi":15},{"k":"p1","l":1,"m":1.7,"lo":13,"hi":15.5},{"k":"p1","l":1,"m":1.82,"lo":13.2,"hi":15.5},{"k":"p1","l":1,"m":1.86,"lo":14.3,"hi":14.9},
{"k":"p2","l":1,"m":1.96,"lo":14.2,"hi":15},{"k":"p2","l":1,"m":2.02,"lo":12.8,"hi":16.6},{"k":"p2","l":1,"m":2.1,"lo":12.3,"hi":16.4},{"k":"p2","l":1,"m":2.2,"lo":13.5,"hi":15.5},{"k":"p2","l":1,"m":2.23,"lo":14.4,"hi":14.8},
{"k":"p3","l":1,"m":2.3,"lo":14.6,"hi":15.2},{"k":"p3","l":1,"m":2.36,"lo":13.4,"hi":16.4},{"k":"p3","l":1,"m":2.6,"lo":13,"hi":16.5},{"k":"p3","l":1,"m":3,"lo":13,"hi":16.3},{"k":"p3","l":1,"m":3.3,"lo":13,"hi":16},{"k":"p3","l":1,"m":3.5,"lo":13,"hi":15.5},{"k":"p3","l":1,"m":3.67,"lo":13,"hi":15.2},{"k":"p3","l":1,"m":3.73,"lo":14,"hi":14.6},
{"k":"p4","l":1,"m":5.27,"lo":6.3,"hi":6.3},{"k":"p4","l":1,"m":5.39,"lo":5.6,"hi":7},{"k":"p4","l":1,"m":5.5,"lo":6.3,"hi":6.3},
{"k":"p5","l":1,"m":5,"lo":7.2,"hi":7.2},{"k":"p5","l":1,"m":5.08,"lo":6.8,"hi":7.6},{"k":"p5","l":1,"m":5.17,"lo":7.2,"hi":7.2},
{"k":"p6","l":1,"m":6.65,"lo":6.1,"hi":6.1},{"k":"p6","l":1,"m":6.73,"lo":5.7,"hi":6.5},{"k":"p6","l":1,"m":6.82,"lo":6.1,"hi":6.1},
{"k":"s1","l":6,"m":0.35,"lo":10,"hi":10.3},{"k":"s1","l":6,"m":0.4,"lo":9.2,"hi":11},{"k":"s1","l":6,"m":0.46,"lo":9.2,"hi":11.2},{"k":"s1","l":6,"m":0.5,"lo":9.6,"hi":10.6},
{"k":"s2","l":6,"m":1,"lo":13,"hi":13.6},{"k":"s2","l":6,"m":1.02,"lo":11.8,"hi":14.8},{"k":"s2","l":6,"m":1.12,"lo":11.8,"hi":14.6},{"k":"s2","l":6,"m":1.16,"lo":13,"hi":13.8},
{"k":"s3","l":4,"m":0.53,"lo":9.5,"hi":9.5},{"k":"s3","l":4,"m":0.56,"lo":8.9,"hi":10.2},{"k":"s3","l":4,"m":0.59,"lo":9.5,"hi":9.5},
{"k":"s4","l":17,"m":0.47,"lo":12.3,"hi":12.3},{"k":"s4","l":17,"m":0.5,"lo":11.5,"hi":13.2},{"k":"s4","l":17,"m":0.53,"lo":12.3,"hi":12.3},
{"k":"s5","l":8,"m":0.2,"lo":8.4,"hi":8.6},{"k":"s5","l":8,"m":0.3,"lo":7.8,"hi":9},{"k":"s5","l":8,"m":0.46,"lo":8,"hi":8.8},{"k":"s5","l":8,"m":0.52,"lo":8.5,"hi":8.6},
{"k":"s6","l":6,"m":1.16,"lo":8.4,"hi":8.6},{"k":"s6","l":6,"m":1.2,"lo":7.5,"hi":9},{"k":"s6","l":6,"m":1.28,"lo":7.5,"hi":8.8},{"k":"s6","l":6,"m":1.3,"lo":8.2,"hi":8.4},
{"k":"s7","l":3,"m":1.02,"lo":8.7,"hi":8.7},{"k":"s7","l":3,"m":1.06,"lo":8,"hi":9.4},{"k":"s7","l":3,"m":1.1,"lo":8.7,"hi":8.7},
{"k":"s8","l":3,"m":1.24,"lo":9.4,"hi":9.4},{"k":"s8","l":3,"m":1.28,"lo":8.7,"hi":10},{"k":"s8","l":3,"m":1.32,"lo":9.4,"hi":9.4},
{"k":"t1","l":5,"m":2.02,"lo":10.4,"hi":10.4},{"k":"t1","l":5,"m":2.08,"lo":10.1,"hi":10.7},{"k":"t1","l":5,"m":2.14,"lo":10.4,"hi":10.4},
{"k":"t2","l":5,"m":2.1,"lo":11,"hi":11.2},{"k":"t2","l":5,"m":2.13,"lo":10.3,"hi":11.6},{"k":"t2","l":5,"m":2.2,"lo":11,"hi":11.6},
{"k":"t3","l":5,"m":3.62,"lo":10.4,"hi":10.4},{"k":"t3","l":5,"m":3.69,"lo":10.1,"hi":10.7},{"k":"t3","l":5,"m":3.76,"lo":10.4,"hi":10.4},
{"k":"t4","l":5,"m":3.85,"lo":10.4,"hi":10.4},{"k":"t4","l":5,"m":3.91,"lo":10.2,"hi":10.6},{"k":"t4","l":5,"m":3.97,"lo":10.4,"hi":10.4},
{"k":"t5","l":5,"m":4.03,"lo":10.4,"hi":10.4},{"k":"t5","l":5,"m":4.12,"lo":10.1,"hi":10.7},{"k":"t5","l":5,"m":4.22,"lo":10.4,"hi":10.4},
{"k":"t6","l":5,"m":5.55,"lo":10.4,"hi":10.4},{"k":"t6","l":5,"m":5.75,"lo":10.2,"hi":10.8},{"k":"t6","l":5,"m":5.95,"lo":10.1,"hi":11.6},
{"k":"h13a","l":13,"m":0,"lo":12.9,"hi":20.2},{"k":"h13a","l":13,"m":0.2,"lo":13,"hi":19.7},{"k":"h13a","l":13,"m":0.45,"lo":13.1,"hi":19.9},{"k":"h13a","l":13,"m":0.6,"lo":13.6,"hi":19.5},{"k":"h13a","l":13,"m":0.7,"lo":14.2,"hi":18.5},{"k":"h13a","l":13,"m":0.78,"lo":15.2,"hi":17},
{"k":"h13b","l":13,"m":3.6,"lo":20.2,"hi":20.6},{"k":"h13b","l":13,"m":3.85,"lo":18.8,"hi":22},{"k":"h13b","l":13,"m":4.1,"lo":18.2,"hi":23.3},{"k":"h13b","l":13,"m":4.38,"lo":18.3,"hi":23},{"k":"h13b","l":13,"m":4.5,"lo":18,"hi":23.6},{"k":"h13b","l":13,"m":4.75,"lo":18,"hi":23},{"k":"h13b","l":13,"m":4.82,"lo":18,"hi":24},{"k":"h13b","l":13,"m":5,"lo":18,"hi":24.8},{"k":"h13b","l":13,"m":5.45,"lo":18.1,"hi":24.2},{"k":"h13b","l":13,"m":5.55,"lo":18.2,"hi":22.8},{"k":"h13b","l":13,"m":5.7,"lo":17.6,"hi":24.2},{"k":"h13b","l":13,"m":6,"lo":17,"hi":25.4},{"k":"h13b","l":13,"m":6.5,"lo":16.1,"hi":25.2},{"k":"h13b","l":13,"m":7,"lo":16.1,"hi":25.4},
{"k":"h14a","l":14,"m":0,"lo":13.4,"hi":19.6},{"k":"h14a","l":14,"m":0.2,"lo":13.6,"hi":18.7},{"k":"h14a","l":14,"m":0.3,"lo":14,"hi":18.3},{"k":"h14a","l":14,"m":0.5,"lo":13.9,"hi":18.6},{"k":"h14a","l":14,"m":0.6,"lo":14.6,"hi":18},{"k":"h14a","l":14,"m":0.68,"lo":15.4,"hi":16.6},
{"k":"h14b","l":14,"m":3.95,"lo":19.5,"hi":21.5},{"k":"h14b","l":14,"m":4.1,"lo":18.5,"hi":22.6},{"k":"h14b","l":14,"m":4.35,"lo":18.6,"hi":22.8},{"k":"h14b","l":14,"m":4.42,"lo":20,"hi":21},
{"k":"h14c","l":14,"m":4.5,"lo":18.2,"hi":23},{"k":"h14c","l":14,"m":4.72,"lo":18.2,"hi":22.5},{"k":"h14c","l":14,"m":4.82,"lo":18.2,"hi":23.5},{"k":"h14c","l":14,"m":5,"lo":18.2,"hi":24.3},{"k":"h14c","l":14,"m":5.4,"lo":18.3,"hi":23.8},{"k":"h14c","l":14,"m":5.5,"lo":18.9,"hi":22.5},{"k":"h14c","l":14,"m":5.53,"lo":20,"hi":21},
{"k":"h14d","l":14,"m":5.6,"lo":19.5,"hi":21.5},{"k":"h14d","l":14,"m":5.7,"lo":18,"hi":23.4},{"k":"h14d","l":14,"m":6,"lo":17.2,"hi":24.8},{"k":"h14d","l":14,"m":6.5,"lo":16.4,"hi":24.9},{"k":"h14d","l":14,"m":7,"lo":16.3,"hi":25},
{"k":"h15a","l":15,"m":0,"lo":14,"hi":19},{"k":"h15a","l":15,"m":0.1,"lo":14,"hi":18.8},{"k":"h15a","l":15,"m":0.16,"lo":15,"hi":18},
{"k":"h15b","l":15,"m":0.16,"lo":15.5,"hi":16.5},{"k":"h15b","l":15,"m":0.2,"lo":14.4,"hi":17.5},{"k":"h15b","l":15,"m":0.35,"lo":14.2,"hi":17.9},{"k":"h15b","l":15,"m":0.5,"lo":14.7,"hi":17.9},{"k":"h15b","l":15,"m":0.6,"lo":15.4,"hi":17},{"k":"h15b","l":15,"m":0.65,"lo":16,"hi":16.3},
{"k":"h15c","l":15,"m":4.1,"lo":19.5,"hi":21.8},{"k":"h15c","l":15,"m":4.18,"lo":18.6,"hi":22.8},{"k":"h15c","l":15,"m":4.33,"lo":18.6,"hi":22.7},{"k":"h15c","l":15,"m":4.4,"lo":20,"hi":21},
{"k":"h15d","l":15,"m":4.55,"lo":20,"hi":22},{"k":"h15d","l":15,"m":4.62,"lo":18.7,"hi":22.8},{"k":"h15d","l":15,"m":4.72,"lo":18.4,"hi":22.2},{"k":"h15d","l":15,"m":4.78,"lo":19,"hi":21},
{"k":"h15e","l":15,"m":4.84,"lo":18.5,"hi":23},{"k":"h15e","l":15,"m":5,"lo":18.3,"hi":23.9},{"k":"h15e","l":15,"m":5.3,"lo":18.4,"hi":23.7},{"k":"h15e","l":15,"m":5.45,"lo":18.6,"hi":22.9},{"k":"h15e","l":15,"m":5.48,"lo":20,"hi":21},
{"k":"h15f","l":15,"m":5.62,"lo":20,"hi":21},{"k":"h15f","l":15,"m":5.72,"lo":18.6,"hi":23.2},{"k":"h15f","l":15,"m":5.85,"lo":18,"hi":24},{"k":"h15f","l":15,"m":6,"lo":17.6,"hi":24.6},{"k":"h15f","l":15,"m":6.5,"lo":16.8,"hi":24.5},{"k":"h15f","l":15,"m":7,"lo":16.6,"hi":24.8},
{"k":"h16a","l":16,"m":0,"lo":14.3,"hi":18.6},{"k":"h16a","l":16,"m":0.08,"lo":14.3,"hi":18.3},{"k":"h16a","l":16,"m":0.13,"lo":15.4,"hi":17.3},
{"k":"h16b","l":16,"m":0.2,"lo":14.2,"hi":15.5},{"k":"h16b","l":16,"m":0.3,"lo":14.2,"hi":16.6},{"k":"h16b","l":16,"m":0.42,"lo":15.2,"hi":16.6},{"k":"h16b","l":16,"m":0.47,"lo":15.8,"hi":16.2},
{"k":"h16c","l":16,"m":4.8,"lo":19.5,"hi":22.2},{"k":"h16c","l":16,"m":4.85,"lo":19.1,"hi":23},{"k":"h16c","l":16,"m":4.92,"lo":19.1,"hi":22.4},{"k":"h16c","l":16,"m":4.96,"lo":20.5,"hi":21},
{"k":"h16d","l":16,"m":5,"lo":20.5,"hi":21},{"k":"h16d","l":16,"m":5.07,"lo":19.4,"hi":22.6},{"k":"h16d","l":16,"m":5.2,"lo":19.6,"hi":23},{"k":"h16d","l":16,"m":5.25,"lo":19.1,"hi":23.7},{"k":"h16d","l":16,"m":5.35,"lo":19.4,"hi":22.9},{"k":"h16d","l":16,"m":5.4,"lo":20.4,"hi":21.8},
{"k":"h16e","l":16,"m":5.8,"lo":19.8,"hi":22.4},{"k":"h16e","l":16,"m":5.95,"lo":18.2,"hi":23.8},{"k":"h16e","l":16,"m":6,"lo":17.9,"hi":24.1},{"k":"h16e","l":16,"m":6.5,"lo":17.3,"hi":24},{"k":"h16e","l":16,"m":7,"lo":17,"hi":24.2},
{"k":"h17a","l":17,"m":0,"lo":14.6,"hi":18.4},{"k":"h17a","l":17,"m":0.08,"lo":14.6,"hi":18},{"k":"h17a","l":17,"m":0.11,"lo":15.8,"hi":17},
{"k":"h17b","l":17,"m":0.22,"lo":14.6,"hi":15.5},{"k":"h17b","l":17,"m":0.3,"lo":14.6,"hi":16.2},{"k":"h17b","l":17,"m":0.36,"lo":15.2,"hi":16.2},{"k":"h17b","l":17,"m":0.38,"lo":15.7,"hi":16},
{"k":"h17c","l":17,"m":5.85,"lo":20.5,"hi":21.5},{"k":"h17c","l":17,"m":6,"lo":18.8,"hi":23.4},{"k":"h17c","l":17,"m":6.2,"lo":18.4,"hi":23.6},{"k":"h17c","l":17,"m":6.5,"lo":17,"hi":23.7},{"k":"h17c","l":17,"m":7,"lo":16.7,"hi":23.9},
{"k":"h18a","l":18,"m":0.01,"lo":14.8,"hi":18},{"k":"h18a","l":18,"m":0.08,"lo":14.8,"hi":17.8},{"k":"h18a","l":18,"m":0.1,"lo":15.6,"hi":16.8},
{"k":"h18b","l":18,"m":5.88,"lo":21,"hi":21.5},{"k":"h18b","l":18,"m":6,"lo":19.6,"hi":22.8},{"k":"h18b","l":18,"m":6.15,"lo":18.6,"hi":23.2},{"k":"h18b","l":18,"m":6.22,"lo":18.4,"hi":22},{"k":"h18b","l":18,"m":6.3,"lo":17.8,"hi":21.5},{"k":"h18b","l":18,"m":6.35,"lo":17.4,"hi":23.3},{"k":"h18b","l":18,"m":6.5,"lo":16.5,"hi":23.2},{"k":"h18b","l":18,"m":7,"lo":16.3,"hi":23.5},
{"k":"h19a","l":19,"m":0.03,"lo":15,"hi":17.3},{"k":"h19a","l":19,"m":0.06,"lo":15,"hi":17},
{"k":"h19b","l":19,"m":5.9,"lo":21,"hi":21.3},{"k":"h19b","l":19,"m":6,"lo":19.9,"hi":22.3},{"k":"h19b","l":19,"m":6.07,"lo":20,"hi":21},{"k":"h19b","l":19,"m":6.12,"lo":21,"hi":21.4},
{"k":"h19c","l":19,"m":6.1,"lo":20.5,"hi":22},{"k":"h19c","l":19,"m":6.18,"lo":18.5,"hi":23},{"k":"h19c","l":19,"m":6.25,"lo":19.5,"hi":22},
{"k":"h19d","l":19,"m":6.25,"lo":21.2,"hi":21.8},{"k":"h19d","l":19,"m":6.3,"lo":19.8,"hi":22.4},{"k":"h19d","l":19,"m":6.5,"lo":16.7,"hi":22.9},{"k":"h19d","l":19,"m":7,"lo":16.4,"hi":23.1},
{"k":"h20a","l":20,"m":6.36,"lo":19.5,"hi":19.9},{"k":"h20a","l":20,"m":6.45,"lo":17.5,"hi":21.5},{"k":"h20a","l":20,"m":6.6,"lo":17.4,"hi":21.7},{"k":"h20a","l":20,"m":7,"lo":17.4,"hi":22},
{"k":"h20b","l":20,"m":6.85,"lo":19.9,"hi":20},{"k":"h20b","l":20,"m":6.95,"lo":19.5,"hi":21},{"k":"h20b","l":20,"m":7,"lo":19.5,"hi":21}],
"cl":[{"t":"1.0","m":0.25,"a":30.2,"r":0},{"t":"2.0","m":0.22,"a":24.3,"r":8},{"t":"3.0","m":0.5,"a":14.6,"r":0},{"t":"2.0","m":0.87,"a":18.5,"r":-90},{"t":"1.0","m":1.7,"a":9.9,"r":-5},{"t":"1.0","m":3.36,"a":32.5,"r":-30},{"t":"2.0","m":3.28,"a":26,"r":-10},{"t":"2.0","m":3.64,"a":18.9,"r":30},{"t":"1.0","m":3.53,"a":17.6,"r":-20},{"t":"3.0","m":4.02,"a":21.9,"r":-90},{"t":"3.0","m":4.17,"a":21,"r":-90},{"t":"3.0","m":4.41,"a":21,"r":90},{"t":"3.0","m":4.78,"a":21.4,"r":-90},{"t":"4.0","m":5.95,"a":22,"r":-90},{"t":"1.0","m":6.59,"a":34.7,"r":0},{"t":"2.0","m":6.11,"a":29.2,"r":0},{"t":"4.0","m":6.75,"a":16.9,"r":15},{"t":"3.0","m":6.76,"a":15.7,"r":15},{"t":"2.0","m":6.77,"a":14.2,"r":20},{"t":"1.0","m":6.76,"a":9.6,"r":0}]
},
"hconcat":[
{"width":85,"height":2303,"data":{"values":[{"z":1}]},"mark":{"type":"rect","color":"#cbebff"}},
{"bounds":"flush","spacing":0,"resolve":{"scale":{"color":"independent","stroke":"independent"}},"vconcat":[
{"width":2082,"height":11,"data":{"values":[{"z":1}]},"mark":{"type":"rect","color":"#cbebff"}},
{"width":2082,"height":195,"data":{"values":[{"t":"August-December 2015","u":0.4976,"v":0.74}]},"mark":{"type":"text","font":"Open Sans","fontWeight":"bold","fontSize":71,"color":"#000"},"encoding":{"x":{"field":"u","type":"quantitative","scale":{"domain":[0,1]},"axis":null},"y":{"field":"v","type":"quantitative","scale":{"domain":[0,1]},"axis":null},"text":{"field":"t"}}},
{"bounds":"flush","spacing":99,"resolve":{"scale":{"color":"independent"}},"hconcat":[
{"width":96,"height":791,"data":{"values":[]},"mark":"rect"},
{"width":503,"height":791,"title":"Neumayer [70S,8W]","data":{"name":"p1"},
"encoding":{"y":{"field":"a","type":"quantitative","scale":{"domain":[10,30],"nice":false,"zero":false},"axis":null},"color":{"field":"s","type":"nominal","scale":{"domain":["S","L","U","V","M"],"range":["#000000","#0000ff","#0a7d14","#ffa500","#ff0000"]},"legend":null}},
"resolve":{"axis":{"x":"independent","y":"independent"}},
"layer":[
{"transform":[{"filter":"isValid(datum.lo)"}],"mark":{"type":"rule","clip":true,"strokeWidth":2.5},"encoding":{"x":{"field":"lo","type":"quantitative","scale":{"domain":[0,5],"nice":false},"axis":{"orient":"bottom","tickCount":50,"labelExpr":"abs(datum.value-round(datum.value))<0.01?format(datum.value,'d'):''","tickSize":{"condition":{"test":"abs(datum.value-round(datum.value))<0.01","value":-22},"value":-11},"labelPadding":30,"title":"O3*10 ^ 12 [cm ^ -3]","titlePadding":-8},"title":"O3*10 ^ 12 [cm ^ -3]"},"x2":{"field":"hi"},"y":{"field":"a","type":"quantitative","scale":{"domain":[10,30],"nice":false,"zero":false},"axis":{"orient":"left","tickCount":20,"labelExpr":"datum.value%5==0?format(datum.value,'d'):''","tickSize":{"condition":{"test":"datum.value%5==0","value":-32},"value":-18},"labelPadding":58,"title":"Altitude, km","titleFont":"Liberation Sans","titleFontSize":37,"titlePadding":36}}}},
{"transform":[{"filter":"isValid(datum.lo)"}],"mark":{"type":"tick","clip":true,"orient":"vertical","size":25,"thickness":3},"encoding":{"x":{"field":"lo","type":"quantitative","scale":{"domain":[0,5],"nice":false},"axis":null}}},
{"transform":[{"filter":"isValid(datum.hi)"}],"mark":{"type":"tick","clip":true,"orient":"vertical","size":25,"thickness":3},"encoding":{"x":{"field":"hi","type":"quantitative","scale":{"domain":[0,5],"nice":false},"axis":null}}},
{"mark":{"type":"line","strokeWidth":5,"clip":true},"encoding":{"order":{"field":"a"},"x":{"field":"x","type":"quantitative","scale":{"domain":[0,5],"nice":false},"axis":{"orient":"top","tickCount":50,"labels":false,"title":null,"tickSize":{"condition":{"test":"abs(datum.value-round(datum.value))<0.01","value":-22},"value":-11}}},"y":{"field":"a","type":"quantitative","scale":{"domain":[10,30],"nice":false,"zero":false},"axis":{"orient":"right","tickCount":20,"labels":false,"title":null,"tickSize":{"condition":{"test":"datum.value%5==0","value":-32},"value":-18}}}}}
]},
{"width":502,"height":791,"title":"Dif. Sat-Sonde(%)","data":{"name":"p2"},
"encoding":{"y":{"field":"a","type":"quantitative","scale":{"domain":[10,30],"nice":false,"zero":false},"axis":null},"color":{"field":"s","type":"nominal","scale":{"domain":["S","L","U","V","M"],"range":["#000000","#0000ff","#0a7d14","#ffa500","#ff0000"]},"legend":null}},
"resolve":{"axis":{"x":"independent","y":"independent"}},
"layer":[
{"transform":[{"filter":"isValid(datum.lo)"}],"mark":{"type":"rule","clip":true,"strokeWidth":2.5},"encoding":{"x":{"field":"lo","type":"quantitative","scale":{"domain":[-100,100],"nice":false},"axis":{"orient":"bottom","tickCount":20,"labelExpr":"datum.value%50==0?format(datum.value,'d'):''","tickSize":{"condition":{"test":"datum.value%50==0","value":-23},"value":-13},"labelPadding":31,"title":"Dif %","titlePadding":-8},"title":"Dif %"},"x2":{"field":"hi"},"y":{"field":"a","type":"quantitative","scale":{"domain":[10,30],"nice":false,"zero":false},"axis":{"orient":"left","tickCount":20,"labelExpr":"datum.value%5==0?format(datum.value,'d'):''","tickSize":{"condition":{"test":"datum.value%5==0","value":-32},"value":-18},"labelPadding":58,"title":null}}}},
{"transform":[{"filter":"isValid(datum.lo)"}],"mark":{"type":"tick","clip":true,"orient":"vertical","size":25,"thickness":3},"encoding":{"x":{"field":"lo","type":"quantitative","scale":{"domain":[-100,100],"nice":false},"axis":null}}},
{"transform":[{"filter":"isValid(datum.hi)"}],"mark":{"type":"tick","clip":true,"orient":"vertical","size":25,"thickness":3},"encoding":{"x":{"field":"hi","type":"quantitative","scale":{"domain":[-100,100],"nice":false},"axis":null}}},
{"data":{"values":[{"z":0}]},"mark":{"type":"rule","color":"#000","strokeWidth":2.5},"encoding":{"x":{"field":"z","type":"quantitative","scale":{"domain":[-100,100],"nice":false},"axis":null},"y":null,"color":null}},
{"mark":{"type":"line","strokeWidth":5,"clip":true},"encoding":{"order":{"field":"a"},"x":{"field":"x","type":"quantitative","scale":{"domain":[-100,100],"nice":false},"axis":{"orient":"top","tickCount":20,"labels":false,"title":null,"tickSize":{"condition":{"test":"datum.value%50==0","value":-23},"value":-13}}},"y":{"field":"a","type":"quantitative","scale":{"domain":[10,30],"nice":false,"zero":false},"axis":{"orient":"right","tickCount":20,"labels":false,"title":null,"tickSize":{"condition":{"test":"datum.value%5==0","value":-32},"value":-18}}}}}
]},
{"width":503,"height":791,"title":"Satellite&Sonde","data":{"name":"p3"},
"encoding":{"y":{"field":"a","type":"quantitative","scale":{"domain":[10,30],"nice":false,"zero":false},"axis":null},"color":{"field":"s","type":"nominal","scale":{"domain":["S","L","U","V","M"],"range":["#000000","#0000ff","#0a7d14","#ffa500","#ff0000"]},"legend":null}},
"resolve":{"axis":{"x":"independent","y":"independent"}},
"layer":[
{"data":{"values":[{"z":0}]},"mark":{"type":"rule","color":"#000","strokeWidth":2.5},"encoding":{"x":{"field":"z","type":"quantitative","scale":{"domain":[-1,1],"nice":false},"axis":{"orient":"bottom","tickCount":20,"labelExpr":"abs(datum.value*2-round(datum.value*2))<0.01?format(datum.value,'.1f'):''","tickSize":{"condition":{"test":"abs(datum.value*2-round(datum.value*2))<0.01","value":-23},"value":-13},"labelPadding":31,"title":"Correlations","titlePadding":-8},"title":"Correlations"},"y":null,"color":null}},
{"mark":{"type":"line","strokeWidth":4.5,"clip":true},"encoding":{"order":{"field":"a"},"x":{"field":"x","type":"quantitative","scale":{"domain":[-1,1],"nice":false},"axis":{"orient":"top","tickCount":20,"labels":false,"title":null,"tickSize":{"condition":{"test":"abs(datum.value*2-round(datum.value*2))<0.01","value":-23},"value":-13}}},"y":{"field":"a","type":"quantitative","scale":{"domain":[10,30],"nice":false,"zero":false},"axis":{"orient":"left","tickCount":20,"labelExpr":"datum.value%5==0?format(datum.value,'d'):''","tickSize":{"condition":{"test":"datum.value%5==0","value":-32},"value":-18},"labelPadding":58,"title":null}}}},
{"mark":{"type":"line","strokeWidth":7,"strokeDash":[14,42],"clip":true},"encoding":{"order":{"field":"a"},"x":{"field":"x","type":"quantitative","scale":{"domain":[-1,1],"nice":false},"axis":null},"y":{"field":"a","type":"quantitative","scale":{"domain":[10,30],"nice":false,"zero":false},"axis":{"orient":"right","tickCount":20,"labels":false,"title":null,"tickSize":{"condition":{"test":"datum.value%5==0","value":-32},"value":-18}}}}}
]}
]},
{"width":2082,"height":791,"data":{"values":[]},"mark":"rect"},
{"width":2082,"height":264,"data":{"values":[{"t":"Neumayer sonde,N=46","u":0.046,"v":0.4,"c":"a"},{"t":"LPv2, N=37","u":0.287,"v":0.4,"c":"b"},{"t":"USask-1D, N=38","u":0.46,"v":0.4,"c":"c"},{"t":"USask-2D, N=38","u":0.634,"v":0.4,"c":"d"},{"t":"MLS, N=34","u":0.807,"v":0.4,"c":"e"}]},
"layer":[{"mark":{"type":"text","align":"left","fontSize":37,"font":"DejaVu Sans"},"encoding":{"x":{"field":"u","type":"quantitative","scale":{"domain":[0,1]},"axis":null},"y":{"field":"v","type":"quantitative","scale":{"domain":[0,1]},"axis":null},"text":{"field":"t"},"color":{"field":"c","type":"nominal","scale":{"domain":["a","b","c","d","e"],"range":["#000000","#0000ff","#0a7d14","#ffa500","#ff0000"]},"legend":null}}},
{"data":{"values":[{"t":"OMPS LP Ozone Number Density (10^12 / cm^3)","u":0.108,"v":0.114},{"t":"70S-90S","u":0.743,"v":0.114},{"t":"2015","u":0.893,"v":0.114}]},"mark":{"type":"text","align":"left","fontSize":49,"font":"DejaVu Sans","color":"#000"},"encoding":{"x":{"field":"u","type":"quantitative","scale":{"domain":[0,1]},"axis":null},"y":{"field":"v","type":"quantitative","scale":{"domain":[0,1]},"axis":null},"text":{"field":"t"}}}]},
{"bounds":"flush","spacing":0,"hconcat":[
{"width":184,"height":957,"data":{"values":[]},"mark":"rect"},
{"width":1841,"height":957,
"resolve":{"axis":{"x":"independent","y":"independent"}},
"layer":[
{"data":{"values":[{"t":"0.0","m":4.19,"a":2.8}]},"mark":{"type":"text","fontSize":30,"font":"DejaVu Sans","color":"#222"},"encoding":{"x":{"field":"m","type":"quantitative","scale":{"domain":[0,7],"nice":false},"axis":null},"y":{"field":"a","type":"quantitative","scale":{"domain":[-0.85,60],"nice":false,"zero":false},"axis":null},"text":{"field":"t"}}},
{"data":{"name":"c"},"mark":{"type":"area","strokeWidth":1.2,"clip":true},"encoding":{"x":{"field":"m","type":"quantitative","scale":{"domain":[0,7],"nice":false},"axis":{"orient":"bottom","values":[0,1,2,3,4,5,6,7],"labels":false,"title":null,"tickSize":-20,"tickWidth":1.5,"domainWidth":1.5,"domainColor":"#444","tickColor":"#444","zindex":1}},"y":{"field":"lo","type":"quantitative","scale":{"domain":[-0.85,60],"nice":false,"zero":false},"axis":{"orient":"left","tickCount":60,"labelExpr":"datum.value%10==0?format(datum.value,'d'):''","labelOffset":7,"labelFontSize":42,"tickSize":{"condition":{"test":"datum.value%10==0","value":-36},"value":-19},"tickWidth":1,"tickColor":"#111","domainWidth":1.5,"domainColor":"#444","labelPadding":56,"title":"Altitude (km)","titleFont":"Liberation Sans","titleFontSize":38,"titlePadding":44,"zindex":1}},"y2":{"field":"hi"},"detail":{"field":"k"},"color":{"field":"l","type":"nominal","scale":{"domain":[0,1,2,3,4,5,6,7,8,9,10,11,12,13,14,15,16,17,18,19,20],"range":["#000000","#33002f","#4b0070","#5000a0","#3e00c8","#0000ff","#0050ff","#0098ff","#00d0ff","#00ffff","#00ffa0","#00ff50","#00ff00","#60ff00","#b0ff00","#ffff00","#ffc000","#ff8800","#ff4000","#ff0000","#ff0000"]},"legend":null},"stroke":{"field":"l","type":"nominal","scale":{"domain":[0,1,2,3,4,5,6,7,8,9,10,11,12,13,14,15,16,17,18,19,20],"range":["transparent","transparent","transparent","#222222","transparent","#111111","transparent","transparent","#222222","transparent","#222222","transparent","#222222","transparent","transparent","#222222","transparent","#222222","transparent","#222222","#222222"]},"legend":null}}},
{"data":{"name":"cl"},"mark":{"type":"text","fontSize":31,"fontStyle":"italic","font":"DejaVu Sans","color":"#111"},"encoding":{"x":{"field":"m","type":"quantitative","scale":{"domain":[0,7],"nice":false},"axis":{"orient":"bottom","values":[0.5,1.5,2.5,3.5,4.5,5.5,6.5],"ticks":false,"domain":false,"labelExpr":"['Jun','Jul','Aug','Sep','Oct','Nov','Dec'][round(datum.value-0.5)]","labelFontSize":47,"labelPadding":14,"title":"Date","titleFontSize":47,"titlePadding":-6}},"y":{"field":"a","type":"quantitative","scale":{"domain":[-0.85,60],"nice":false,"zero":false},"axis":{"orient":"right","tickCount":60,"labels":false,"title":null,"tickSize":{"condition":{"test":"datum.value%10==0","value":-36},"value":-19},"tickWidth":1,"tickColor":"#111","domainWidth":1.5,"domainColor":"#444","zindex":1}},"text":{"field":"t"},"angle":{"field":"r","type":"quantitative","scale":null}}},
{"data":{"values":[{"t":"ANTARCTIC OZONE HOLE","m":3.49,"a":55.9},{"t":"YEAR 2015","m":3.49,"a":52.4},{"t":"(USASK-2D Retrieval Algorithm)","m":3.49,"a":49}]},"mark":{"type":"text","fontSize":56,"font":"DejaVu Sans","color":"#ffffff"},"encoding":{"x":{"field":"m","type":"quantitative","scale":{"domain":[0,7],"nice":false},"axis":null},"y":{"field":"a","type":"quantitative","scale":{"domain":[-0.85,60],"nice":false,"zero":false},"axis":null},"text":{"field":"t"}}}
]}
]},
{"width":2082,"height":957,"data":{"values":[]},"mark":"rect"}
]}
]}
